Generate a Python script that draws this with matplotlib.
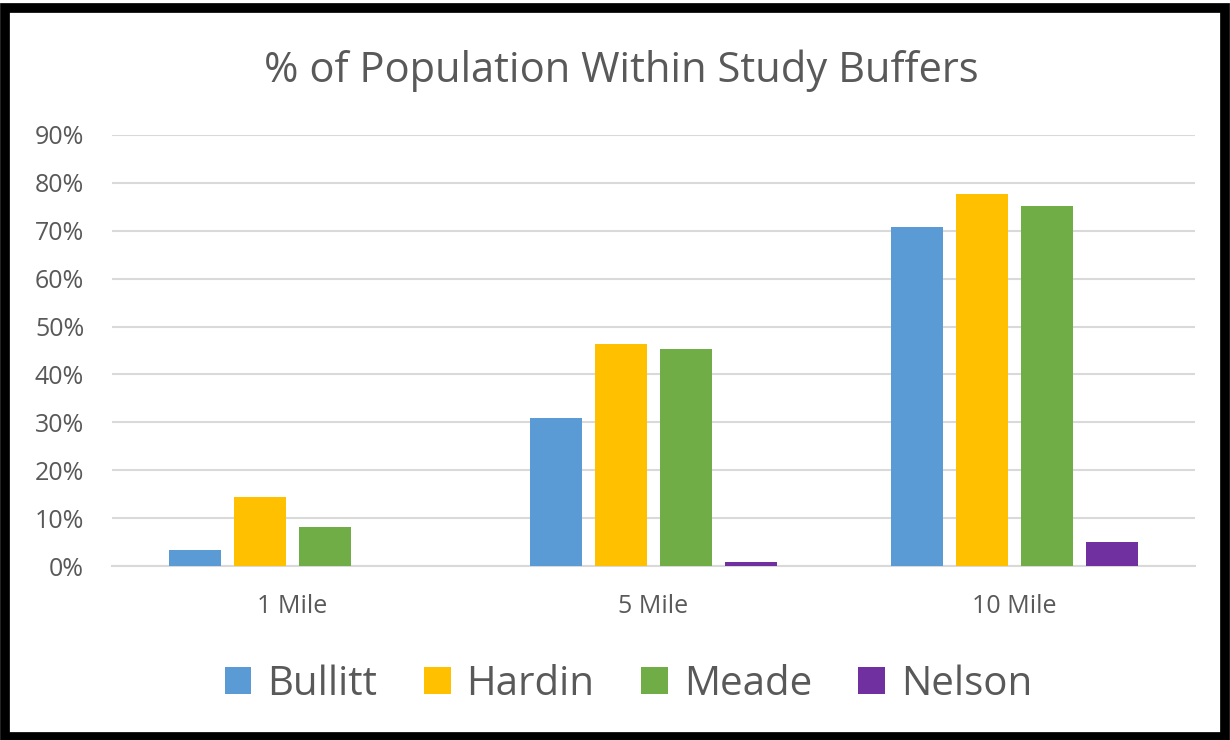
import numpy as np
import matplotlib.pyplot as plt
from matplotlib.patches import Rectangle
from matplotlib.ticker import PercentFormatter

# Values (share of population)
buffers = ["1 Mile", "5 Mile", "10 Mile"]
bullitt = [0.033, 0.309, 0.708]
hardin = [0.144, 0.463, 0.777]
meade = [0.081, 0.453, 0.752]
nelson = [0.0, 0.009, 0.050]

counties = ["Bullitt", "Hardin", "Meade", "Nelson"]
colors = ["#5B9BD5", "#FFC000", "#70AD47", "#7030A0"]
series = [bullitt, hardin, meade, nelson]

plt.rcParams["font.family"] = ["Open Sans", "DejaVu Sans"]
text_color = "#595959"

fig = plt.figure(figsize=(12.3, 7.4), dpi=100)
ax = fig.add_axes([0.091, 0.235, 0.8805, 0.5826])

x = np.arange(len(buffers))
step = 0.18
width = 0.145
for i, (name, vals, col) in enumerate(zip(counties, series, colors)):
    ax.bar(x + (i - 1.5) * step, vals, width, color=col, label=name, zorder=3)

ax.set_xlim(-0.5, 2.5)
ax.set_ylim(0, 0.9)
ax.set_yticks(np.arange(0, 0.91, 0.1))
ax.yaxis.set_major_formatter(PercentFormatter(1.0, decimals=0))
ax.set_xticks(x)
ax.set_xticklabels(buffers)
ax.grid(axis="y", color="#D9D9D9", linewidth=1.5, zorder=0)
for s in ["top", "right", "left"]:
    ax.spines[s].set_visible(False)
ax.spines["bottom"].set_color("#D9D9D9")
ax.spines["bottom"].set_linewidth(1.5)
ax.tick_params(axis="y", length=0, pad=20, labelsize=18, labelcolor=text_color)
ax.tick_params(axis="x", length=0, pad=20, labelsize=18, labelcolor=text_color)

fig.text(0.505, 0.905, "% of Population Within Study Buffers", ha="center",
         va="center", fontsize=30, color=text_color)

leg = fig.legend(loc="center", bbox_to_anchor=(0.511, 0.075), ncol=4,
                 frameon=False, fontsize=29, handlelength=0.66,
                 handleheight=0.66, handletextpad=0.4, columnspacing=1.15)
for t in leg.get_texts():
    t.set_color(text_color)

# black frame around the whole picture
fig.patches.append(Rectangle((0.004, 0.004), 0.992, 0.985, transform=fig.transFigure,
                             fill=False, edgecolor="black", linewidth=7))

fig.savefig("out.png", dpi=100)
